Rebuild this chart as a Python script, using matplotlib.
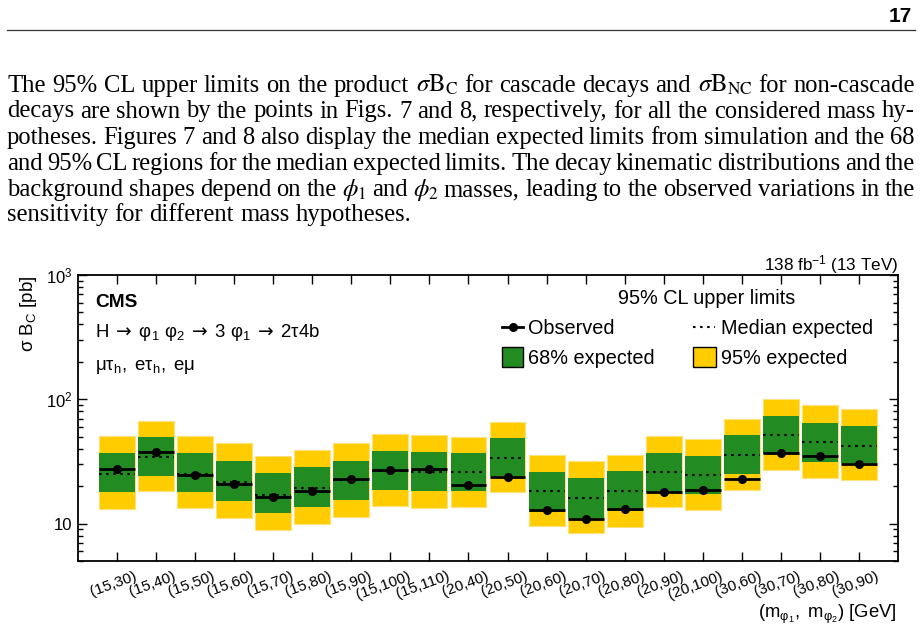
import numpy as np
import matplotlib
matplotlib.use("Agg")
import matplotlib.pyplot as plt
from matplotlib.lines import Line2D
from matplotlib.patches import Rectangle
from matplotlib.ticker import FixedLocator, FuncFormatter, LogLocator, NullLocator
from matplotlib.transforms import ScaledTranslation

# mass hypotheses (m_phi1, m_phi2)
mass_points = ["(15,30)", "(15,40)", "(15,50)", "(15,60)", "(15,70)", "(15,80)", "(15,90)",
               "(15,100)", "(15,110)", "(20,40)", "(20,50)", "(20,60)", "(20,70)", "(20,80)",
               "(20,90)", "(20,100)", "(30,60)", "(30,70)", "(30,80)", "(30,90)"]

# limits in pb
observed = [27.6, 37.4, 24.8, 20.9, 16.4, 18.3, 22.9, 26.8, 27.6, 20.3,
            23.8, 12.9, 10.9, 13.0, 18.0, 18.5, 22.8, 36.7, 34.7, 30.2]
median_exp = [25.1, 34.3, 25.2, 21.5, 17.1, 19.5, 22.6, 26.6, 26.1, 25.9,
              33.8, 18.2, 16.1, 18.2, 25.9, 24.4, 35.6, 51.3, 45.0, 42.3]
lo68 = [17.8, 24.2, 18.0, 15.2, 12.1, 13.6, 15.4, 18.8, 18.2, 18.2,
        24.1, 12.4, 11.1, 12.6, 17.7, 17.3, 25.0, 36.0, 31.4, 30.6]
hi68 = [36.7, 49.4, 36.9, 32.0, 25.4, 28.4, 32.0, 38.3, 37.4, 37.1,
        48.7, 26.1, 23.2, 26.3, 37.1, 34.9, 51.3, 73.3, 64.8, 60.6]
lo95 = [13.1, 18.2, 13.4, 11.1, 8.8, 10.0, 11.3, 13.9, 13.4, 13.6,
        17.9, 9.6, 8.4, 9.4, 13.5, 12.9, 18.7, 26.9, 23.3, 22.3]
hi95 = [50.6, 66.8, 50.6, 44.7, 35.1, 39.0, 44.2, 52.5, 51.5, 49.9,
        65.9, 35.4, 31.8, 35.5, 50.6, 47.9, 69.7, 100.0, 89.5, 83.0]

para_lines = [
    r"The 95% CL upper limits on the product $\sigma\mathrm{B}_\mathrm{C}$ for cascade decays and $\sigma\mathrm{B}_\mathrm{NC}$ for non-cascade",
    "decays are shown by the points in Figs. 7 and 8, respectively, for all the considered mass hy-",
    "potheses. Figures 7 and 8 also display the median expected limits from simulation and the 68",
    "and 95% CL regions for the median expected limits. The decay kinematic distributions and the",
    r"background shapes depend on the $\phi_1$ and $\phi_2$ masses, leading to the observed variations in the",
    "sensitivity for different mass hypotheses.",
]

GREEN = "#228B22"
YELLOW = "#FFCC00"

plt.rcParams["font.family"] = ["Liberation Sans", "DejaVu Sans"]
plt.rcParams["mathtext.fontset"] = "custom"
plt.rcParams["mathtext.rm"] = "Liberation Sans"
plt.rcParams["mathtext.it"] = "Liberation Sans:italic"
plt.rcParams["mathtext.bf"] = "Liberation Sans:bold"
plt.rcParams["mathtext.sf"] = "DejaVu Sans"

W, H = 921, 640
fig = plt.figure(figsize=(W / 100, H / 100), dpi=100)
renderer = fig.canvas.get_renderer()


def fx(px):
    return px / W


def fy(py):
    return 1 - py / H


# page header
fig.text(fx(912), fy(22), "17", weight="bold", size=15, ha="right", va="baseline")
fig.add_artist(Line2D([fx(7), fx(915)], [fy(30), fy(30)], color="#333333", lw=0.9,
                      transform=fig.transFigure))

# paragraph, justified word by word
serif = dict(family="Liberation Serif", math_fontfamily="stix", va="baseline")
probe = fig.text(0, 0, para_lines[-1], size=16, **serif)
psize = 1.01 * 16 * 400 / probe.get_window_extent(renderer).width
probe.remove()
baselines = [92, 117.5, 144, 170, 196, 221]
left, right = 7, 915
for i, line in enumerate(para_lines):
    words = line.split(" ")
    objs = [fig.text(0, fy(baselines[i]), w, size=psize, **serif) for w in words]
    widths = [o.get_window_extent(renderer).width for o in objs]
    if i < len(para_lines) - 1:
        gap = (right - left - sum(widths)) / (len(words) - 1)
    else:
        gap = 0.25 * psize * 100 / 72
    x = left
    for o, w in zip(objs, widths):
        o.set_x(fx(x))
        x += w + gap

# chart
ax = fig.add_axes([fx(78), fy(561), (898 - 78) / W, (561 - 275) / H])
x = np.arange(1, len(mass_points) + 1)
bw = 0.92
ax.bar(x, np.array(hi95) - np.array(lo95), bottom=lo95, width=bw, color=YELLOW,
       edgecolor="#FFE07A", linewidth=0.8, zorder=2)
ax.bar(x, np.array(hi68) - np.array(lo68), bottom=lo68, width=bw, color=GREEN,
       linewidth=0, zorder=3)
ax.hlines(median_exp, x - bw / 2, x + bw / 2, colors="k", lw=1.5,
          linestyles=(0, (1.2, 2.2)), zorder=4)
ax.hlines(observed, x - bw / 2, x + bw / 2, colors="k", lw=2, zorder=5)
ax.plot(x, observed, "o", color="k", ms=5.5, zorder=6)

ax.set_yscale("log")
ax.set_xlim(0, len(mass_points) + 1)
ax.set_ylim(5, 1000)

ax.xaxis.set_major_locator(FixedLocator(x))
ax.xaxis.set_minor_locator(NullLocator())
label_shift = ax.get_xaxis_transform() + ScaledTranslation(0.17, -0.08, fig.dpi_scale_trans)
for xi, lab in zip(x, mass_points):
    ax.text(xi, 0, lab, transform=label_shift, rotation=20, ha="right", va="top",
            rotation_mode="anchor", fontsize=11)

ax.yaxis.set_major_locator(LogLocator(base=10))
ax.yaxis.set_minor_locator(LogLocator(base=10, subs=np.arange(2, 10)))
ylabels = {10: "10", 100: r"$\mathrm{10^{2}}$", 1000: r"$\mathrm{10^{3}}$"}
ax.yaxis.set_major_formatter(FuncFormatter(lambda v, p: ylabels.get(int(round(v)), "")))
ax.yaxis.set_minor_formatter(FuncFormatter(lambda v, p: ""))

ax.tick_params(axis="x", which="major", direction="in", length=6.5, width=1,
               top=True, labelbottom=False)
ax.tick_params(axis="y", which="major", direction="in", length=6.5, width=1,
               right=True, labelsize=12, pad=4)
ax.tick_params(axis="y", which="minor", direction="in", length=3.5, width=1, right=True)
for sp in ax.spines.values():
    sp.set_linewidth(1.3)

# labels and annotations
fig.text(fx(28.5), fy(275), r"$\mathrm{\sigma\ B_C\ [pb]}$", rotation=90, ha="center",
         va="top", size=13.5)
fig.text(fx(897), fy(617.7), r"$\mathrm{(m_{φ_1},\ m_{φ_2})\ [GeV]}$", ha="right",
         va="baseline", size=13.3)
fig.text(fx(898), fy(270.7), r"138 fb$^{\mathrm{-1}}$ (13 TeV)", ha="right",
         va="baseline", size=12.3)
fig.text(fx(95), fy(307.3), "CMS", weight="bold", size=13.8, va="baseline")
fig.text(fx(95), fy(337.3),
         r"$\mathrm{H\;\mathsf{\rightarrow}\;φ_1\ φ_2\;\mathsf{\rightarrow}\;3\ φ_1\;\mathsf{\rightarrow}\;2τ4b}$",
         size=13.4, va="baseline")
fig.text(fx(95), fy(370), r"$\mathrm{μτ_h,\ eτ_h,\ eμ}$", size=13.4, va="baseline")
fig.text(fx(707), fy(304), "95% CL upper limits", ha="center", va="baseline", size=14.3)

# legend drawn by hand
fig.add_artist(Line2D([fx(502), fx(523)], [fy(327.3)] * 2, color="k", lw=2,
                      transform=fig.transFigure))
fig.add_artist(Line2D([fx(512.5)], [fy(327.3)], color="k", marker="o", ms=5.5,
                      transform=fig.transFigure))
fig.add_artist(Line2D([fx(693), fx(715)], [fy(327.3)] * 2, color="k", lw=1.5,
                      linestyle=(0, (1.2, 2.2)), transform=fig.transFigure))
fig.add_artist(Rectangle((fx(502), fy(367)), (523 - 502) / W, 20 / H, facecolor=GREEN,
                         edgecolor="k", lw=1, transform=fig.transFigure))
fig.add_artist(Rectangle((fx(693), fy(367)), (716 - 693) / W, 20 / H, facecolor=YELLOW,
                         edgecolor="k", lw=1, transform=fig.transFigure))
fig.text(fx(528), fy(334), "Observed", va="baseline", size=14.3)
fig.text(fx(721), fy(334), "Median expected", va="baseline", size=14.3)
fig.text(fx(528), fy(364.3), "68% expected", va="baseline", size=14.3)
fig.text(fx(721), fy(364.3), "95% expected", va="baseline", size=14.3)

fig.savefig("out.png", dpi=100)
